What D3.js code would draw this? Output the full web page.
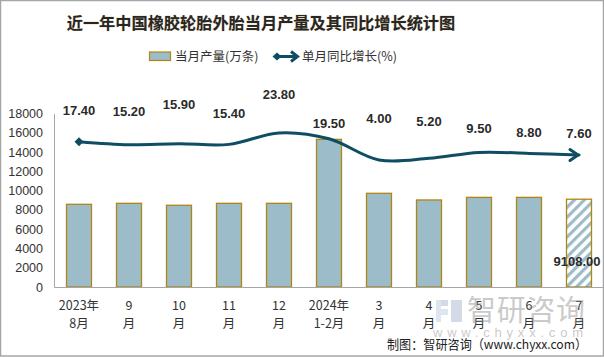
<!DOCTYPE html>
<html><head><meta charset="utf-8">
<script src="https://cdn.jsdelivr.net/npm/d3@7"></script>
<style>
html,body{margin:0;padding:0;background:#fff;}
svg{display:block;}
</style></head>
<body>
<svg id="chart" width="604" height="357"></svg>
<script>
// ---- data ----
const categories = [["2023年","8月"],["9","月"],["10","月"],["11","月"],["12","月"],["2024年","1-2月"],["3","月"],["4","月"],["5","月"],["6","月"],["7","月"]];
const production = [8580, 8680, 8480, 8680, 8680, 15320, 9720, 9030, 9300, 9300, 9108];
const growth = [17.40, 15.20, 15.90, 15.40, 23.80, 19.50, 4.00, 5.20, 9.50, 8.80, 7.60];
const yTicks = [0, 2000, 4000, 6000, 8000, 10000, 12000, 14000, 16000, 18000];
const title = "近一年中国橡胶轮胎外胎当月产量及其同比增长统计图";
const legendBar = "当月产量(万条)";
const legendLine = "单月同比增长(%)";
const source = "制图：智研咨询（www.chyxx.com）";
// layout: label lift above line points (px)
const labelLift = [32, 34, 40, 31, 39, 16, 42, 37, 24, 21, 22];

const svg = d3.select("#chart");
const W = 604, H = 357;
const m = {left: 54, right: 0, top: 113.5, bottom: 70};
const x0 = 54, x1 = 604, yBase = 287, yTop = 113.5;
const barColor = "#9dbcc9", barStroke = "#b08512", lineColor = "#0e4d64";
const cjk = "'Noto Sans CJK SC', 'Liberation Sans', sans-serif";
const num = "'Liberation Sans', Arial, sans-serif";

// border
svg.append("rect").attr("x",0.5).attr("y",0.5).attr("width",W-1).attr("height",H-1.5)
  .attr("fill","#fff").attr("stroke","#a6a6a6").attr("stroke-width",1.5);

const defs = svg.append("defs");
const pat = defs.append("pattern").attr("id","hatch").attr("patternUnits","userSpaceOnUse")
  .attr("width",7).attr("height",7).attr("patternTransform","rotate(45)");
pat.append("rect").attr("width",7).attr("height",7).attr("fill","#fff");
pat.append("rect").attr("x",0).attr("width",3.2).attr("height",7).attr("fill",barColor);

const x = d3.scaleBand().domain(d3.range(categories.length)).range([x0, x1]).paddingInner(0.48).paddingOuter(0.24);
const y = d3.scaleLinear().domain([0, 18000]).range([yBase, yTop]);
const y2 = d3.scaleLinear().domain([-89, 38]).range([yBase, yTop]);

// title
svg.append("text").attr("x",261).attr("y",29).attr("text-anchor","middle")
  .attr("font-family","'Noto Sans CJK SC', serif").attr("font-weight","bold").attr("font-size",16.2)
  .attr("fill","#262626").style("paint-order","stroke").attr("stroke","#d9b87a").attr("stroke-width",0.4)
  .text(title);

// legend
const lg = svg.append("g");
lg.append("rect").attr("x",149.5).attr("y",52).attr("width",21).attr("height",8.5)
  .attr("fill",barColor).attr("stroke",barStroke).attr("stroke-width",1.2);
lg.append("text").attr("x",175).attr("y",61).attr("font-family",cjk).attr("font-size",12.5)
  .attr("fill","#333").text(legendBar);
lg.append("line").attr("x1",276).attr("x2",296).attr("y1",56.5).attr("y2",56.5)
  .attr("stroke",lineColor).attr("stroke-width",3);
lg.append("path").attr("d","M272.5,56.5 L277,52.5 L281.5,56.5 L277,60.5 Z").attr("fill",lineColor);
lg.append("path").attr("d","M291,51.5 L297.5,56.5 L291,61.5").attr("fill","none").attr("stroke",lineColor).attr("stroke-width",3);
lg.append("text").attr("x",302).attr("y",61).attr("font-family",cjk).attr("font-size",12.5)
  .attr("fill","#333").text(legendLine);

// y axis
const yAxis = svg.append("g").attr("transform",`translate(${x0},0)`)
  .call(d3.axisLeft(y).tickValues(yTicks).tickSize(0).tickPadding(11).tickFormat(d3.format("d")));
yAxis.select(".domain").attr("stroke","#a6a6a6").attr("stroke-width",1);
yAxis.selectAll("text").attr("font-family",num).attr("font-size",12.5).attr("fill","#333");

// bars
svg.append("g").selectAll("rect").data(production).join("rect")
  .attr("x",(d,i)=>x(i)+0.5).attr("width",x.bandwidth()-1)
  .attr("y",d=>y(d)).attr("height",d=>yBase-y(d))
  .attr("fill",(d,i)=> i===production.length-1 ? "url(#hatch)" : barColor)
  .attr("stroke",barStroke).attr("stroke-width",1.3);

// x axis
const xAxis = svg.append("g").attr("transform",`translate(0,${yBase})`)
  .call(d3.axisBottom(x).tickSize(0).tickFormat(""));
xAxis.select(".domain").attr("stroke","#a6a6a6").attr("stroke-width",1.2);
const xl = svg.append("g");
categories.forEach((c,i)=>{
  const cx = x(i)+x.bandwidth()/2;
  xl.append("text").attr("x",cx).attr("y",310).attr("text-anchor","middle")
    .attr("font-family",cjk).attr("font-size",12.5).attr("fill","#333").text(c[0]);
  xl.append("text").attr("x",cx).attr("y",328).attr("text-anchor","middle")
    .attr("font-family",cjk).attr("font-size",12.5).attr("fill","#333").text(c[1]);
});

// line
const cx = i => x(i)+x.bandwidth()/2;
const line = d3.line().x((d,i)=>cx(i)).y(d=>y2(d)).curve(d3.curveCatmullRom.alpha(0.5));
svg.append("path").datum(growth).attr("d",line).attr("fill","none")
  .attr("stroke",lineColor).attr("stroke-width",3).attr("stroke-linecap","round");
// start diamond
const sx = cx(0), sy = y2(growth[0]);
svg.append("path").attr("d",`M${sx-4.5},${sy} L${sx},${sy-4.5} L${sx+4.5},${sy} L${sx},${sy+4.5} Z`).attr("fill",lineColor);
// end arrow
const n = growth.length-1, ex = cx(n)-1, ey = y2(growth[n]);
svg.append("path").attr("d",`M${ex-8},${ey-5.5} L${ex},${ey} L${ex-8},${ey+5.5}`)
  .attr("fill","none").attr("stroke",lineColor).attr("stroke-width",3).attr("stroke-linecap","round");

// growth labels
svg.append("g").selectAll("text").data(growth).join("text")
  .attr("x",(d,i)=>cx(i)).attr("y",(d,i)=>y2(d)-labelLift[i]+5)
  .attr("text-anchor","middle").attr("font-family",num).attr("font-weight","bold")
  .attr("font-size",13).attr("fill","#2a2a2a").text(d=>d3.format(".2f")(d));

// last bar label
svg.append("text").attr("x",cx(n)-2).attr("y",y(production[n])+67)
  .attr("text-anchor","middle").attr("font-family",num).attr("font-weight","bold")
  .attr("font-size",13).attr("fill","#2a2a2a").text(d3.format(".2f")(production[n]));

// watermark
const wm = svg.append("g").attr("opacity",0.45);
wm.append("rect").attr("x",436).attr("y",300).attr("width",12).attr("height",6).attr("fill","#9fb0c8");
wm.append("rect").attr("x",436).attr("y",309).attr("width",12).attr("height",6).attr("fill","#b8c6da");
wm.append("rect").attr("x",436).attr("y",300).attr("width",5).attr("height",22).attr("fill","#b8c6da");
wm.append("rect").attr("x",451).attr("y",300).attr("width",11).attr("height",22).attr("fill","#9fb0c8");
wm.append("text").attr("x",467).attr("y",321).attr("font-family",cjk).attr("font-size",29)
  .attr("fill","#8c8c8c").attr("textLength",118).text("智研咨询");
wm.append("text").attr("x",433).attr("y",337).attr("font-family",num).attr("font-size",13)
  .attr("fill","#8c8c8c").attr("textLength",150).attr("lengthAdjust","spacing").text("www.chyxx.com");

// source
svg.append("text").attr("x",387).attr("y",349).attr("font-family",cjk).attr("font-size",13)
  .attr("fill","#222").attr("textLength",200).attr("lengthAdjust","spacingAndGlyphs").text(source);
</script>
</body></html>
